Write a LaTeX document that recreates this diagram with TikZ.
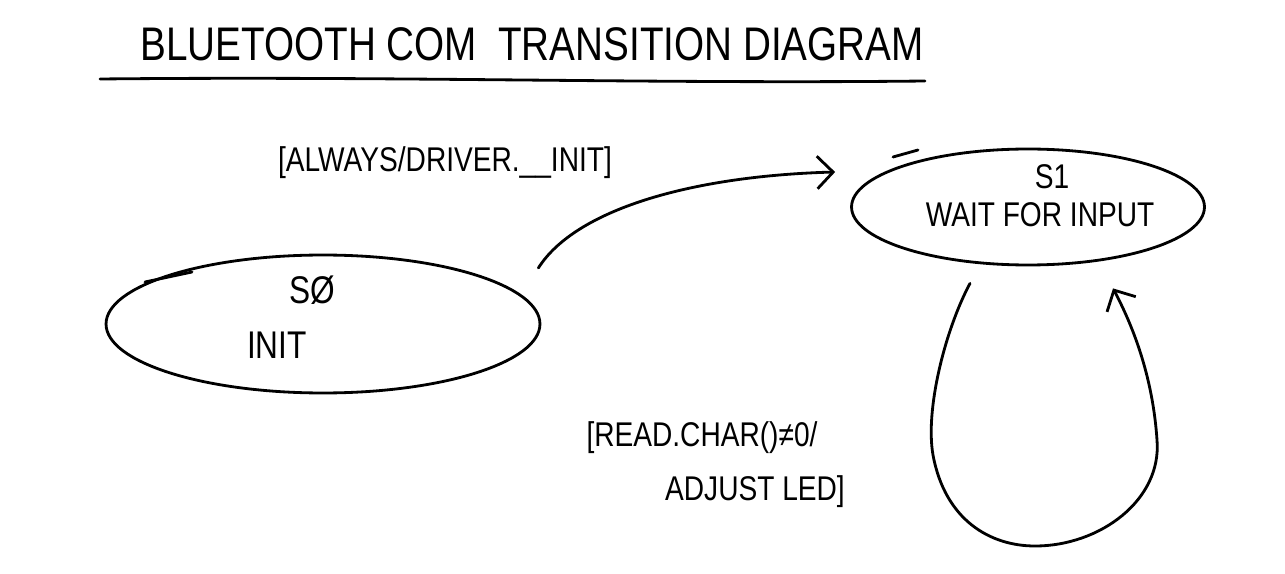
\documentclass[tikz,border=0pt]{standalone}
\usepackage{fontspec}
\setmainfont{Liberation Sans}
\usetikzlibrary{shapes.geometric,arrows.meta}
% taller lettering
\newcommand{\tall}[1]{\scalebox{1}[1.22]{#1}}
\begin{document}
\begin{tikzpicture}[x=0.02cm,y=-0.02cm,
  pen/.style={line width=1.6pt,line cap=round,line join=round},
  statebox/.style={pen,draw,ellipse,inner sep=0pt},
  barb/.style={-{Straight Barb[length=3.2mm,width=6.5mm,line width=1.6pt]}},
  lbl/.style={inner sep=0pt,anchor=center}]
\useasboundingbox (0,0) rectangle (1285,574);

% heading with underline
\node[lbl,font=\fontsize{22}{26}\selectfont] (title) at (532,44) {\tall{BLUETOOTH COM\ \ TRANSITION DIAGRAM}};
\draw[pen] (100,79) .. controls (400,76) and (650,84) .. (925,81);

% states
\node[statebox,minimum width=8.68cm,minimum height=2.76cm] (s0) at (323,324) {};
\node[statebox,minimum width=7.06cm,minimum height=2.32cm] (s1) at (1028,207) {};
\draw[pen] (145,282) -- (192,272);
\draw[pen] (893,157) -- (918,150);

\node[lbl,font=\fontsize{18}{20}\selectfont] (s0id) at (312,290) {\tall{SØ}};
\node[lbl,font=\fontsize{18}{20}\selectfont] (s0name) at (277,345) {\tall{INIT}};
\node[lbl,font=\fontsize{16}{18}\selectfont] (s1id) at (1052,177) {\tall{S1}};
\node[lbl,font=\fontsize{16}{18}\selectfont] (s1name) at (1040,215) {\tall{WAIT FOR INPUT}};

% transition S0 -> S1
\coordinate (a0) at ([shift={(-3,-56)}]s0.east);
\coordinate (a1) at ([shift={(-15,-35)}]s1.west);
\draw[pen,barb] (a0) .. controls (575,210) and (690,176) .. (a1);
\node[lbl,font=\fontsize{16}{18}\selectfont] (t01) at (445,163) {\tall{[ALWAYS/DRIVER.\_\_INIT]}};

% self loop on S1
\coordinate (l0) at ([shift={(-58,17)}]s1.south);
\coordinate (l1) at ([shift={(85,22)}]s1.south);
\draw[pen,barb] (l0) .. controls (945,330) and (925,410) .. (933,455)
  .. controls (945,520) and (990,546) .. (1035,546)
  .. controls (1100,546) and (1162,500) .. (1157,440)
  .. controls (1153,380) and (1135,330) .. (l1);
\node[lbl,font=\fontsize{16}{18}\selectfont] (t11a) at (702,438) {\tall{[READ.CHAR()≠0/}};
\node[lbl,font=\fontsize{16}{18}\selectfont] (t11b) at (755,492) {\tall{ADJUST LED]}};
\end{tikzpicture}
\end{document}
